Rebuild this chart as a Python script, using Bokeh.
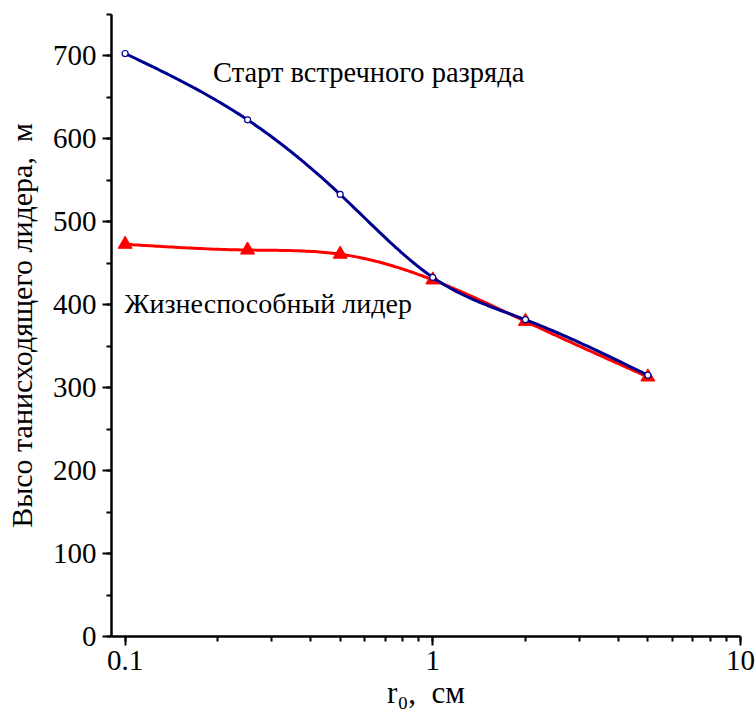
import numpy as np
from bokeh.plotting import figure
from bokeh.models import Range1d, SingleIntervalTicker, Label, CustomJSTickFormatter
from bokeh.embed import file_html
from bokeh.resources import INLINE

# data
r0 = [0.1, 0.25, 0.5, 1.0, 2.0, 5.0]
start_counter = [703, 623, 533, 433, 382, 315]   # Старт встречного разряда
viable_leader = [473, 466, 461, 430, 380, 313]    # Жизнеспособный лидер

FONT = "Liberation Serif"
BLUE = "#000090"
RED = "#ff0000"


def natural_spline(xs, ys, n=200):
    xs = np.asarray(xs, float)
    ys = np.asarray(ys, float)
    m = len(xs)
    h = np.diff(xs)
    A = np.zeros((m, m))
    b = np.zeros(m)
    A[0, 0] = A[-1, -1] = 1
    for i in range(1, m - 1):
        A[i, i - 1] = h[i - 1]
        A[i, i] = 2 * (h[i - 1] + h[i])
        A[i, i + 1] = h[i]
        b[i] = 6 * ((ys[i + 1] - ys[i]) / h[i] - (ys[i] - ys[i - 1]) / h[i - 1])
    M = np.linalg.solve(A, b)
    xx = np.linspace(xs[0], xs[-1], n)
    out = np.empty_like(xx)
    for k, x in enumerate(xx):
        i = min(np.searchsorted(xs, x, side="right") - 1, m - 2)
        t0 = xs[i + 1] - x
        t1 = x - xs[i]
        out[k] = (M[i] * t0 ** 3 + M[i + 1] * t1 ** 3) / (6 * h[i]) \
            + (ys[i] / h[i] - M[i] * h[i] / 6) * t0 \
            + (ys[i + 1] / h[i] - M[i + 1] * h[i] / 6) * t1
    return xx, out


p = figure(width=755, height=713, x_axis_type="log", output_backend="svg",
           toolbar_location=None,
           x_range=Range1d(0.0903, 10), y_range=Range1d(0, 750),
           min_border_left=111, min_border_right=15, min_border_top=14,
           min_border_bottom=77)
p.outline_line_color = None
p.grid.visible = False
p.background_fill_color = "white"
p.border_fill_color = "white"

lx = np.log10(r0)
bx, by = natural_spline(lx, start_counter)
rx, ry = natural_spline(lx, viable_leader)

p.line(10 ** rx, ry, line_color=RED, line_width=3)
p.scatter(r0, viable_leader, marker="triangle", size=14, fill_color=RED,
          line_color=RED)
p.line(10 ** bx, by, line_color=BLUE, line_width=3)
p.scatter(r0, start_counter, marker="circle", size=6, fill_color="white",
          line_color=BLUE, line_width=1.2)

for ax in (p.xaxis[0], p.yaxis[0]):
    ax.axis_line_width = 2.5
    ax.axis_line_color = "black"
    ax.major_tick_line_width = 2
    ax.minor_tick_line_width = 2
    ax.major_tick_out = 9
    ax.major_tick_in = 0
    ax.minor_tick_out = 5
    ax.minor_tick_in = 0
    ax.major_label_text_font = FONT
    ax.major_label_text_font_size = "29px"
    ax.major_label_text_color = "black"
    ax.major_label_standoff = 6
    ax.axis_label_text_font = FONT
    ax.axis_label_text_font_style = "normal"
    ax.axis_label_text_color = "black"

p.yaxis[0].ticker = SingleIntervalTicker(interval=100, num_minor_ticks=2)
p.yaxis[0].axis_label = "Высо танисходящего лидера,\u00a0 м"
p.yaxis[0].axis_label_text_font_size = "30px"
p.yaxis[0].axis_label_standoff = 12

p.xaxis[0].formatter = CustomJSTickFormatter(
    code="return parseFloat(tick.toPrecision(3)).toString();")
p.xaxis[0].major_label_standoff = 5
p.xaxis[0].axis_label = "r\u2080,\u00a0 см"
p.xaxis[0].axis_label_text_font_size = "31px"
p.xaxis[0].axis_label_standoff = 2

p.add_layout(Label(x=0.193, y=680, text="Старт встречного разряда",
                   text_font=FONT, text_font_size="28.5px", text_color="black",
                   text_baseline="middle", text_align="left"))
p.add_layout(Label(x=0.0995, y=402, text="Жизнеспособный лидер",
                   text_font=FONT, text_font_size="28px", text_color="black",
                   text_baseline="middle", text_align="left"))

open("out.html", "w").write(file_html(p, INLINE))
